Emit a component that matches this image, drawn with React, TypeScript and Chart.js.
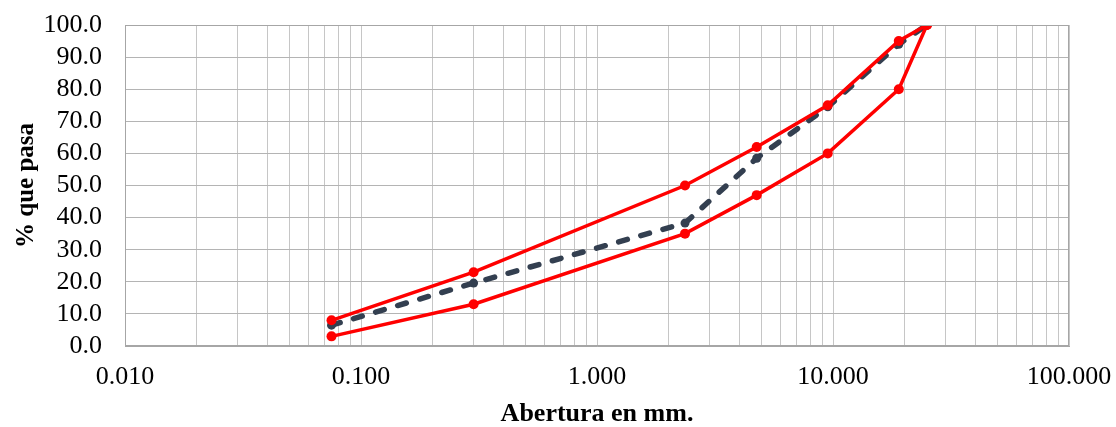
import React, { useEffect, useRef } from "react";
import { Chart, registerables } from "chart.js";

Chart.register(...registerables);

const sieveSizes = [0.075, 0.3, 2.36, 4.75, 9.5, 19, 25];
const upperLimit = [8, 23, 50, 62, 75, 95, 100];
const lowerLimit = [3, 13, 35, 47, 60, 80, 100];
const gradation = [6.5, 19.6, 38.3, 58.5, 74.5, 94, 100];
const decadeLabels = [0.01, 0.1, 1, 10, 100];

const FONT = "'Liberation Serif', 'Times New Roman', serif";

export default function App() {
  const ref = useRef<HTMLCanvasElement | null>(null);

  useEffect(() => {
    if (!ref.current) return;
    const toPts = (ys: number[]) => sieveSizes.map((x, i) => ({ x, y: ys[i] }));
    const chart = new Chart(ref.current, {
      type: "line",
      data: {
        datasets: [
          {
            label: "Límite superior",
            data: toPts(upperLimit),
            borderColor: "#FF0000",
            backgroundColor: "#FF0000",
            borderWidth: 3.5,
            pointRadius: 5,
            pointBorderWidth: 0,
            pointBackgroundColor: "#FF0000",
          },
          {
            label: "Límite inferior",
            data: toPts(lowerLimit),
            borderColor: "#FF0000",
            backgroundColor: "#FF0000",
            borderWidth: 3.5,
            pointRadius: 5,
            pointBorderWidth: 0,
            pointBackgroundColor: "#FF0000",
          },
          {
            label: "Granulometría",
            data: toPts(gradation),
            borderColor: "#333F50",
            backgroundColor: "#333F50",
            borderWidth: 5.5,
            borderDash: [9, 14],
            borderCapStyle: "round",
            borderJoinStyle: "round",
            pointRadius: 4.5,
            pointBorderWidth: 0,
            pointBackgroundColor: "#333F50",
          },
        ],
      },
      options: {
        animation: false,
        responsive: true,
        maintainAspectRatio: false,
        layout: { padding: { left: 0, right: 47, top: 25, bottom: 0 } },
        plugins: { legend: { display: false }, tooltip: { enabled: false } },
        scales: {
          x: {
            type: "logarithmic",
            min: 0.01,
            max: 100,
            afterBuildTicks: (scale: any) => {
              const t: any[] = [];
              for (let e = -2; e <= 2; e++) {
                for (let m = 1; m <= 9; m++) {
                  const v = parseFloat((m * Math.pow(10, e)).toPrecision(6));
                  if (v > 100) break;
                  t.push({ value: v });
                  if (e === 2) break;
                }
              }
              scale.ticks = t;
            },
            afterFit: (scale: any) => {
              scale.height = 81;
              scale.paddingLeft = 0;
              scale.paddingRight = 0;
            },
            grid: { color: "#C6C6C6", lineWidth: 1, drawTicks: false },
            border: { color: "#A6A6A6", width: 1 },
            ticks: {
              autoSkip: false,
              maxRotation: 0,
              padding: 16,
              color: "#000",
              font: { family: FONT, size: 26 },
              callback: (v: any) => {
                const n = Number(v);
                return decadeLabels.some((d) => Math.abs(d - n) < 1e-9) ? n.toFixed(3) : "";
              },
            },
            title: {
              display: true,
              text: "Abertura en mm.",
              color: "#000",
              font: { family: FONT, size: 26, weight: "bold", lineHeight: 1 },
              padding: { top: 0, bottom: 0 },
            },
          },
          y: {
            min: 0,
            max: 100,
            afterFit: (scale: any) => {
              scale.width = 125;
              scale.paddingTop = 0;
              scale.paddingBottom = 0;
            },
            grid: { color: "#B4B4B4", lineWidth: 1, drawTicks: false },
            border: { color: "#A6A6A6", width: 1 },
            ticks: {
              stepSize: 10,
              autoSkip: false,
              padding: 23,
              color: "#000",
              font: { family: FONT, size: 26 },
              callback: (v: any) => Number(v).toFixed(1),
            },
            title: {
              display: true,
              text: "% que pasa",
              color: "#000",
              font: { family: FONT, size: 25, weight: "bold", lineHeight: 1 },
              padding: { top: 14, bottom: 0 },
            },
          },
        },
      },
      plugins: [
        {
          id: "frame",
          afterDraw: (c: any) => {
            const a = c.chartArea;
            const ctx = c.ctx;
            ctx.save();
            ctx.strokeStyle = "#A6A6A6";
            ctx.lineWidth = 1;
            ctx.strokeRect(a.left + 0.5, a.top + 0.5, a.right - a.left - 1, a.bottom - a.top - 1);
            ctx.restore();
          },
        },
      ],
    } as any);
    return () => chart.destroy();
  }, []);

  return (
    <div style={{ position: "fixed", left: 0, top: 0, width: 1116, height: 427, background: "#fff" }}>
      <canvas ref={ref} />
    </div>
  );
}
